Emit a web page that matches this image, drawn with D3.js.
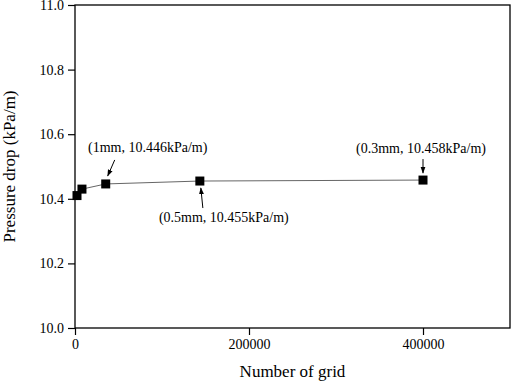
<!DOCTYPE html>
<html lang="en">
<head>
<meta charset="UTF-8">
<title>Pressure drop vs number of grid</title>
<script src="https://cdn.jsdelivr.net/npm/d3@7"></script>
<style>
  body { margin: 0; background: #fff; }
</style>
</head>
<body>
<svg id="chart" width="512" height="382"></svg>
<script>
const gridCounts = [2300, 8000, 35300, 143500, 400000];
const pressureDrop = [10.41, 10.43, 10.446, 10.455, 10.458];
const xTicks = [0, 200000, 400000];
const yTicks = [10.0, 10.2, 10.4, 10.6, 10.8, 11.0];
const notes = [
  { i: 2, label: "(1mm, 10.446kPa/m)" },
  { i: 3, label: "(0.5mm, 10.455kPa/m)" },
  { i: 4, label: "(0.3mm, 10.458kPa/m)" }
];

const serif = '"Liberation Serif", "Times New Roman", serif';
const svg = d3.select("#chart");
const mLeft = 75, mRight = 510, mTop = 5, mBottom = 328;

const x = d3.scaleLinear().domain([0, 500000]).range([mLeft, mRight]);
const y = d3.scaleLinear().domain([10.0, 11.0]).range([mBottom, mTop]);

svg.append("defs").append("marker")
  .attr("id", "arrow")
  .attr("viewBox", "0 0 10 10")
  .attr("refX", 9).attr("refY", 5)
  .attr("markerWidth", 7).attr("markerHeight", 7)
  .attr("orient", "auto")
  .append("path").attr("d", "M0,1.5 L10,5 L0,8.5 Z").attr("fill", "#000");

// frame
svg.append("rect")
  .attr("x", mLeft).attr("y", mTop)
  .attr("width", mRight - mLeft).attr("height", mBottom - mTop)
  .attr("fill", "none").attr("stroke", "#000").attr("stroke-width", 1.3);

// x axis
const xAxis = svg.append("g").attr("transform", `translate(0,${mBottom})`);
xAxis.call(d3.axisBottom(x).tickValues(d3.range(0, 500001, 100000)).tickSize(5).tickFormat(""));
xAxis.call(d3.axisBottom(x).tickValues(xTicks).tickSize(7).tickPadding(4).tickFormat(d3.format("d")));
xAxis.selectAll(".domain").remove();

// y axis
const yAxis = svg.append("g").attr("transform", `translate(${mLeft},0)`);
yAxis.call(d3.axisLeft(y).tickValues(d3.range(10.0, 11.001, 0.1)).tickSize(5).tickFormat(""));
yAxis.call(d3.axisLeft(y).tickValues(yTicks).tickSize(7).tickPadding(4).tickFormat(d3.format(".1f")));
yAxis.selectAll(".domain").remove();

svg.selectAll(".tick line").attr("stroke-width", 1.2);
svg.selectAll(".tick text").style("font-family", serif).style("font-size", "14px");

// titles
svg.append("text")
  .attr("x", (mLeft + mRight) / 2).attr("y", 377)
  .attr("text-anchor", "middle")
  .style("font-family", serif).style("font-size", "17px")
  .text("Number of grid");
svg.append("text")
  .attr("transform", `translate(15,${(mTop + mBottom) / 2}) rotate(-90)`)
  .attr("text-anchor", "middle")
  .style("font-family", serif).style("font-size", "17px")
  .text("Pressure drop (kPa/m)");

const pts = gridCounts.map((g, i) => [g, pressureDrop[i]]);

svg.append("path")
  .datum(pts)
  .attr("fill", "none").attr("stroke", "#666").attr("stroke-width", 1)
  .attr("d", d3.line().x(d => x(d[0])).y(d => y(d[1])));

svg.selectAll(".pt")
  .data(pts)
  .enter().append("rect")
  .attr("class", "pt")
  .attr("x", d => x(d[0]) - 4.5).attr("y", d => y(d[1]) - 4.5)
  .attr("width", 9).attr("height", 9)
  .attr("fill", "#000");

// annotation offsets relative to the point: text centre, arrow start, arrow end
const layout = [
  { tx: 42, ty: -32, ax1: 9, ay1: -24, ax2: 2, ay2: -8 },
  { tx: 24, ty: 41, ax1: 3, ay1: 27, ax2: 1, ay2: 7 },
  { tx: -2, ty: -27, ax1: 0, ay1: -21, ax2: 0, ay2: -7 }
];

notes.forEach((n, k) => {
  const px = x(gridCounts[n.i]), py = y(pressureDrop[n.i]);
  const l = layout[k];
  svg.append("text")
    .attr("x", px + l.tx).attr("y", py + l.ty)
    .attr("text-anchor", "middle")
    .style("font-family", serif).style("font-size", "14px")
    .text(n.label);
  svg.append("line")
    .attr("x1", px + l.ax1).attr("y1", py + l.ay1)
    .attr("x2", px + l.ax2).attr("y2", py + l.ay2)
    .attr("stroke", "#000").attr("stroke-width", 1)
    .attr("marker-end", "url(#arrow)");
});
</script>
</body>
</html>
